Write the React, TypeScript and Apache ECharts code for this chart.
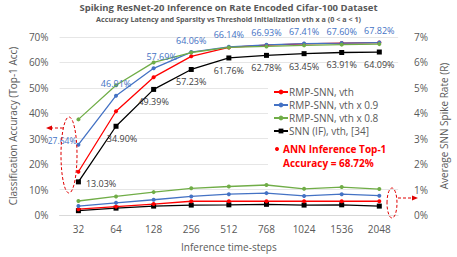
import React, { useEffect, useRef } from "react";
import * as echarts from "echarts";

const categories = ["32", "64", "128", "256", "512", "768", "1024", "1536", "2048"];
const accVth = [17.0, 40.8, 54.2, 62.4, 65.9, 66.8, 67.3, 67.6, 67.8];
const accVth09 = [27.64, 46.91, 57.69, 64.06, 66.14, 66.93, 67.41, 67.6, 67.82];
const accVth08 = [37.6, 51.0, 60.0, 63.9, 65.9, 66.3, 66.7, 67.0, 67.2];
const accIF = [13.03, 34.9, 49.39, 57.23, 61.76, 62.78, 63.45, 63.91, 64.09];
const rateVth = [0.23, 0.33, 0.43, 0.54, 0.54, 0.54, 0.54, 0.54, 0.54];
const rateVth09 = [0.35, 0.48, 0.6, 0.73, 0.82, 0.86, 0.75, 0.82, 0.76];
const rateVth08 = [0.55, 0.73, 0.9, 1.05, 1.12, 1.18, 1.03, 1.1, 1.02];
const rateIF = [0.17, 0.27, 0.35, 0.39, 0.4, 0.42, 0.39, 0.4, 0.35];
const leftTicks = [0, 70, 10];
const rightTicks = [0, 7, 1];

const RED = "#ff0000";
const BLUE = "#4472c4";
const GREEN = "#70ad47";
const BLACK = "#000000";
const GRAY = "#595959";
const FONT = "Open Sans";

export default function App() {
  const ref = useRef<HTMLDivElement>(null);
  useEffect(() => {
    const chart = echarts.init(ref.current!, null, { renderer: "svg" });
    const blueLabelPos = ["left", "top", "top", "top", "top", "top", "top", "top", "top"];
    const blueLabelOff = [[5, -4], [0, 0], [8, 0], [0, 0], [0, 0], [0, 0], [0, 0], [0, 0], [0, 0]];
    const blueLabelSize = [8.5, 9, 9, 9, 9, 9, 9, 9, 9];
    const blackLabelPos = ["right", "bottom", "bottom", "bottom", "bottom", "bottom", "bottom", "bottom", "bottom"];
    const blackLabelOff = [[0, 2], [6, 0], [0, 0], [0, 0], [0, 0], [0, 0], [0, 0], [0, 0], [0, 0]];
    const mkLine = (name: string, data: number[], color: string, axis: number, square: boolean) => ({
      name,
      type: "line",
      yAxisIndex: axis,
      data,
      symbol: square ? "rect" : "circle",
      symbolSize: square ? 5 : 4,
      showAllSymbol: true,
      lineStyle: { color, width: 1.3 },
      itemStyle: { color },
      z: square ? 2 : 3,
    });
    const blueAcc: any = mkLine("RMP-SNN, vth x 0.9", accVth09, BLUE, 0, false);
    blueAcc.data = accVth09.map((v, i) => ({
      value: v,
      label: {
        show: true,
        position: blueLabelPos[i],
        offset: blueLabelOff[i],
        formatter: (p: any) => p.value.toFixed(2) + "%",
        color: BLUE,
        fontSize: blueLabelSize[i],
        lineHeight: 10,
        fontFamily: FONT,
      },
    }));
    const blackAcc: any = mkLine("SNN (IF), vth, [34]", accIF, BLACK, 0, true);
    blackAcc.data = accIF.map((v, i) => ({
      value: v,
      label: {
        show: true,
        position: blackLabelPos[i],
        offset: blackLabelOff[i],
        formatter: (p: any) => p.value.toFixed(2) + "%",
        color: "#404040",
        fontSize: 9,
        lineHeight: 10,
        fontFamily: FONT,
      },
    }));
    const option: any = {
      animation: false,
      textStyle: { fontFamily: FONT },
      title: [
        {
          text: "Spiking ResNet-20 Inference on Rate Encoded Cifar-100 Dataset",
          left: "center",
          top: 1,
          padding: 0,
          textStyle: { fontSize: 9.5, fontWeight: "bold", color: GRAY, fontFamily: FONT, lineHeight: 12 },
        },
        {
          text: "Accuracy Latency and Sparsity vs Threshold Initialization vth x a (0 < a < 1)",
          left: "center",
          top: 14,
          padding: 0,
          textStyle: { fontSize: 7.2, fontWeight: "bold", color: GRAY, fontFamily: FONT, lineHeight: 9 },
        },
      ],
      legend: {
        left: 268,
        top: 82,
        orient: "vertical",
        itemGap: 3,
        itemWidth: 14,
        itemHeight: 6,
        z: 5,
        textStyle: { fontSize: 10, color: GRAY, fontFamily: FONT, padding: [0, 0, 0, -4] },
        data: ["RMP-SNN, vth", "RMP-SNN, vth x 0.9", "RMP-SNN, vth x 0.8", "SNN (IF), vth, [34]"],
      },
      grid: { left: 48, right: 45, top: 37, bottom: 36 },
      xAxis: {
        type: "category",
        data: categories,
        name: "Inference time-steps",
        nameLocation: "middle",
        nameGap: 27,
        nameTextStyle: { fontSize: 10, color: GRAY, fontFamily: FONT },
        axisLine: { lineStyle: { color: "#d9d9d9" } },
        axisTick: { show: false },
        axisLabel: { fontSize: 10, color: GRAY, margin: 9 },
      },
      yAxis: [
        {
          type: "value",
          min: leftTicks[0],
          max: leftTicks[1],
          interval: leftTicks[2],
          name: "Classification Accuracy (Top-1 Acc)",
          nameLocation: "middle",
          nameGap: 39,
          nameTextStyle: { fontSize: 10, color: GRAY, fontFamily: FONT },
          axisLabel: { formatter: "{value}%", fontSize: 10, color: GRAY, margin: 11 },
          splitLine: { lineStyle: { color: "#e6e6e6" } },
          axisLine: { show: false },
          axisTick: { show: false },
        },
        {
          type: "value",
          min: rightTicks[0],
          max: rightTicks[1],
          interval: rightTicks[2],
          name: "Average SNN Spike Rate (R)",
          nameLocation: "middle",
          nameGap: 36,
          nameRotate: 90,
          nameTextStyle: { fontSize: 10, color: GRAY, fontFamily: FONT },
          axisLabel: { formatter: "{value}%", fontSize: 10, color: GRAY, margin: 16 },
          splitLine: { show: false },
          axisLine: { show: false },
          axisTick: { show: false },
        },
      ],
      series: [
        mkLine("RMP-SNN, vth", accVth, RED, 0, false),
        blueAcc,
        mkLine("RMP-SNN, vth x 0.8", accVth08, GREEN, 0, false),
        blackAcc,
        mkLine("RMP-SNN, vth", rateVth, RED, 1, false),
        mkLine("RMP-SNN, vth x 0.9", rateVth09, BLUE, 1, false),
        mkLine("RMP-SNN, vth x 0.8", rateVth08, GREEN, 1, false),
        mkLine("SNN (IF), vth, [34]", rateIF, BLACK, 1, true),
      ],
      graphic: [
        {
          type: "rect",
          z: 1,
          shape: { x: 268, y: 82, width: 132, height: 85 },
          style: { fill: "#ffffff" },
        },
        { type: "circle", z: 6, shape: { cx: 277, cy: 149, r: 2 }, style: { fill: RED } },
        {
          type: "text",
          z: 6,
          x: 283,
          y: 142,
          style: {
            text: "ANN Inference Top-1\nAccuracy = 68.72%",
            fill: RED,
            font: "bold 10px 'Open Sans'",
            lineHeight: 14,
          },
        },
        {
          type: "ellipse",
          z: 6,
          shape: { cx: 69, cy: 155, rx: 8, ry: 38 },
          style: { fill: "none", stroke: "#e00000", lineWidth: 1, lineDash: [3, 2] },
        },
        {
          type: "line",
          z: 6,
          shape: { x1: 63, y1: 128, x2: 50, y2: 128 },
          style: { stroke: "#e00000", lineWidth: 1, lineDash: [3, 2] },
        },
        {
          type: "polygon",
          z: 6,
          shape: { points: [[46, 128], [52, 125.5], [52, 130.5]] },
          style: { fill: "#e00000" },
        },
        {
          type: "ellipse",
          z: 6,
          shape: { cx: 392, cy: 203, rx: 5, ry: 15 },
          style: { fill: "none", stroke: "#e00000", lineWidth: 1, lineDash: [3, 2] },
        },
        {
          type: "line",
          z: 6,
          shape: { x1: 398, y1: 198, x2: 413, y2: 198 },
          style: { stroke: "#e00000", lineWidth: 1, lineDash: [3, 2] },
        },
        {
          type: "polygon",
          z: 6,
          shape: { points: [[418, 198], [412, 195.5], [412, 200.5]] },
          style: { fill: "#e00000" },
        },
      ],
    };
    chart.setOption(option);
    return () => chart.dispose();
  }, []);
  return <div ref={ref} style={{ width: 457, height: 257, position: "absolute", left: 0, top: 0 }} />;
}
